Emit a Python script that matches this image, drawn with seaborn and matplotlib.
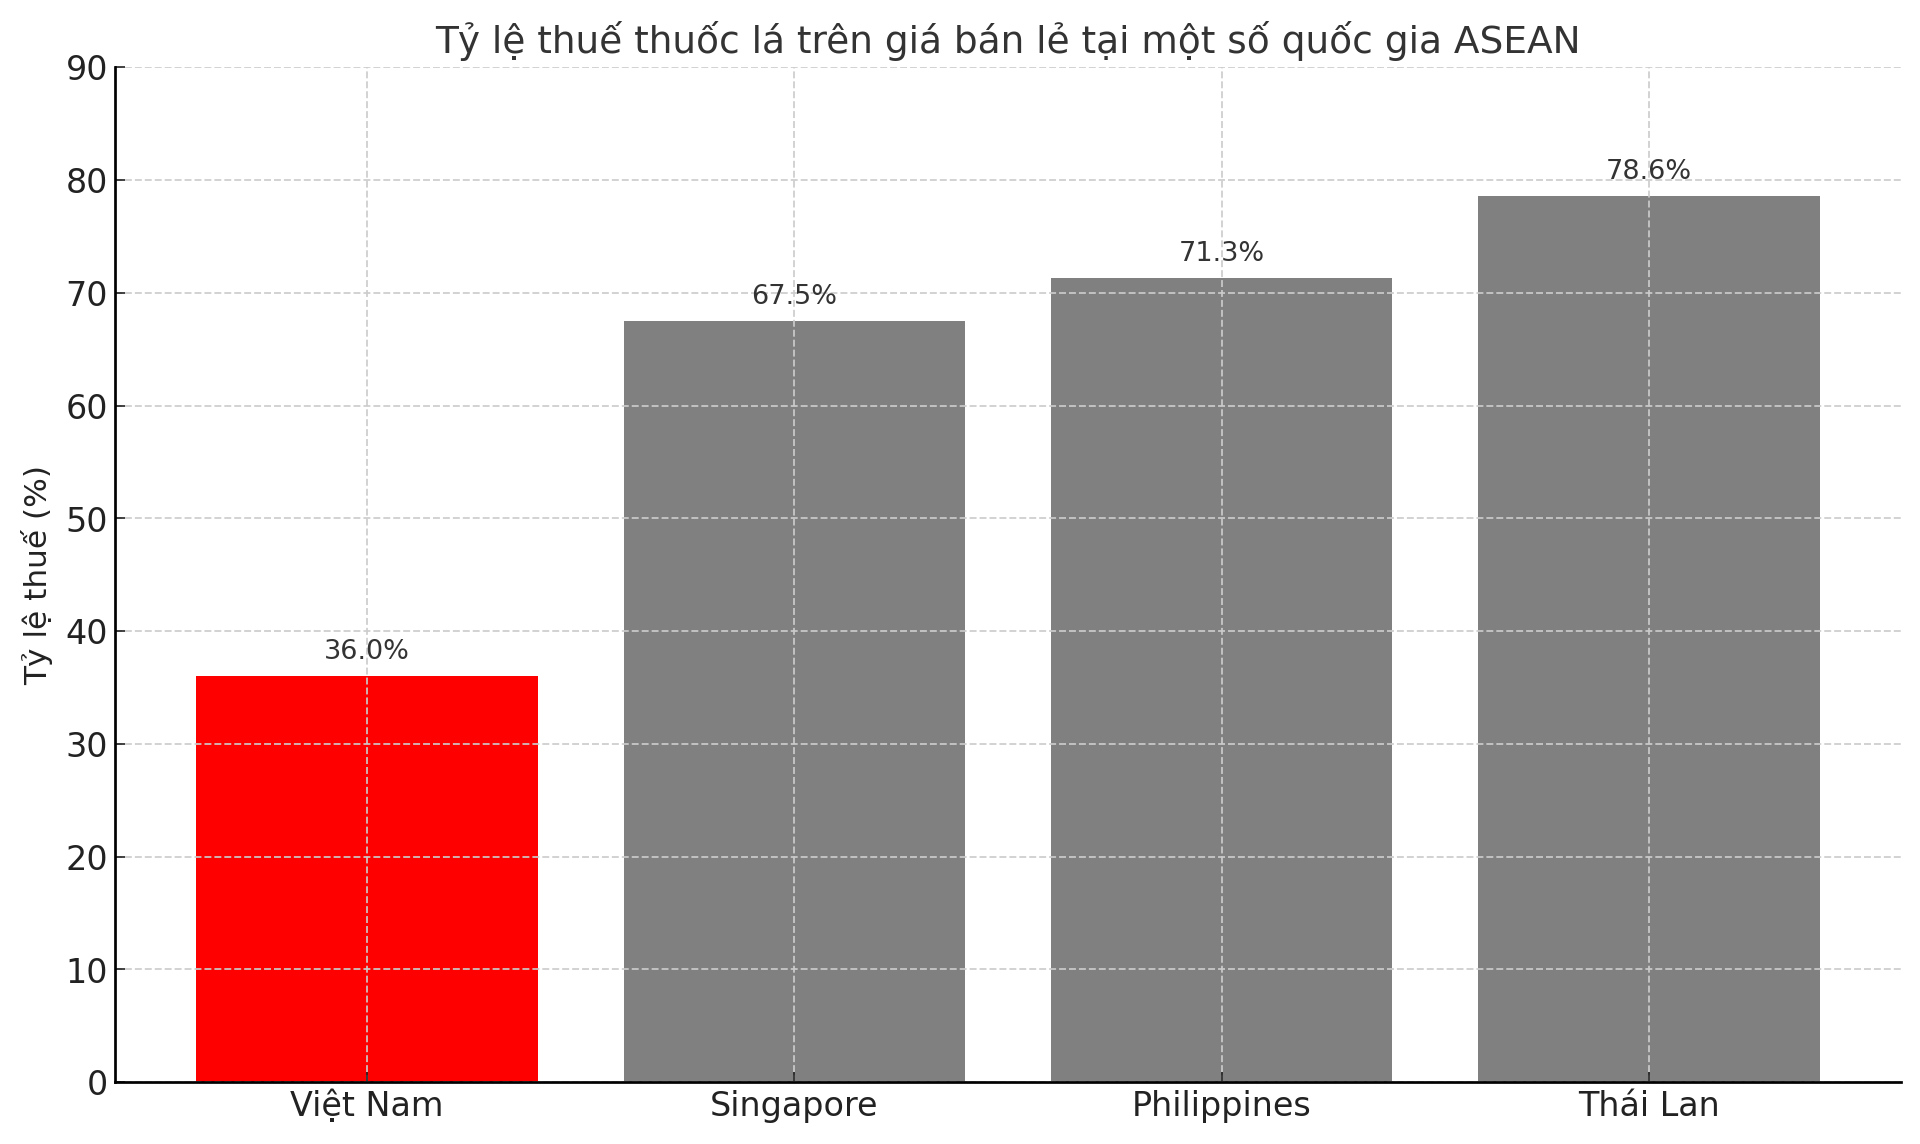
"""Bar chart: tobacco tax share of retail price in selected ASEAN countries."""

import matplotlib

matplotlib.use("Agg")

import matplotlib.pyplot as plt
import pandas as pd
import seaborn as sns

COUNTRIES = ["Việt Nam", "Singapore", "Philippines", "Thái Lan"]
TAX_RATES = [36.0, 67.5, 71.3, 78.6]
BAR_COLORS = ["red", "gray", "gray", "gray"]
Y_TICKS = list(range(0, 100, 10))

TITLE = "Tỷ lệ thuế thuốc lá trên giá bán lẻ tại một số quốc gia ASEAN"
Y_LABEL = "Tỷ lệ thuế (%)"


def main() -> None:
    plt.rcParams["font.family"] = ["DejaVu Sans"]
    plt.rcParams["axes.axisbelow"] = "line"  # grid sits over the bars

    df = pd.DataFrame({"country": COUNTRIES, "rate": TAX_RATES})

    fig, ax = plt.subplots(figsize=(12.8, 7.627), dpi=150)
    fig.subplots_adjust(left=0.060, right=0.990, bottom=0.054, top=0.941)

    sns.barplot(
        data=df,
        x="country",
        y="rate",
        hue="country",
        palette=BAR_COLORS,
        legend=False,
        width=0.8,
        saturation=1,
        ax=ax,
    )

    for i, v in enumerate(df["rate"]):
        ax.text(i, v + 1, f"{v:.1f}%", ha="center", va="bottom", fontsize=13, color="#333333")

    ax.set_title(TITLE, fontsize=18, color="#333333", pad=7)
    ax.set_ylabel(Y_LABEL, fontsize=15, color="#222222", labelpad=6)
    ax.set_xlabel("")
    # matplotlib-style 5% margins around the bars
    ax.set_xlim(-0.59, len(COUNTRIES) - 1 + 0.59)
    ax.set_ylim(0, 90)
    ax.set_yticks(Y_TICKS)
    ax.tick_params(axis="both", direction="in", labelsize=16, length=5, colors="#222222")
    ax.grid(True, linestyle="--", color="#cccccc", linewidth=0.9, alpha=0.9)
    for side in ("top", "right"):
        ax.spines[side].set_visible(False)
    for side in ("left", "bottom"):
        ax.spines[side].set_linewidth(1.3)

    fig.savefig("out.png", dpi=150)
    plt.close(fig)


if __name__ == "__main__":
    main()
